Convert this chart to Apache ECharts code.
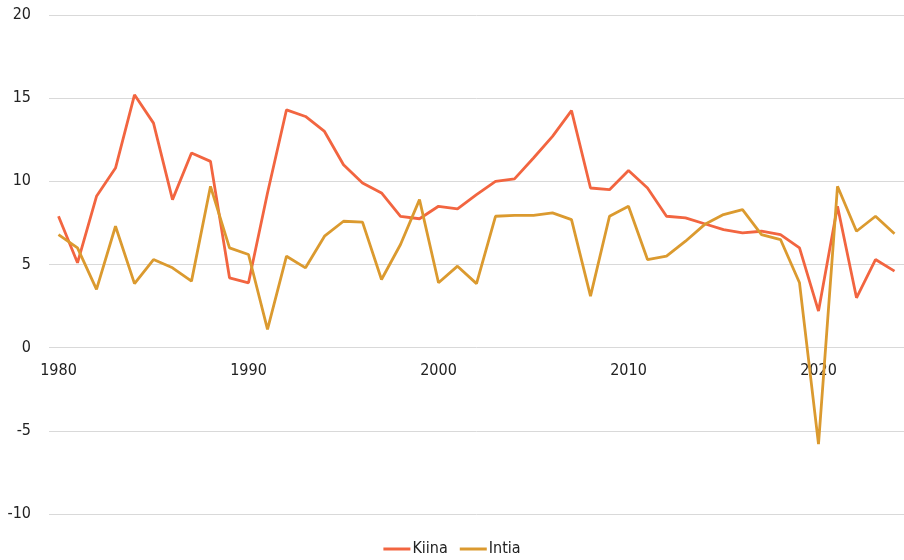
<!DOCTYPE html>
<html>
<head>
<meta charset="utf-8">
<script src="https://cdn.jsdelivr.net/npm/echarts@6/dist/echarts.min.js"></script>
<style>
html,body{margin:0;padding:0;background:#fff;}
#c{width:904px;height:560px;}
</style>
</head>
<body>
<div id="c"></div>
<script>
const years = [];
for (let y = 1980; y <= 2024; y++) years.push(String(y));

const kiina = [7.9, 5.1, 9.1, 10.8, 15.2, 13.5, 8.9, 11.7, 11.2, 4.2,
  3.9, 9.3, 14.3, 13.9, 13.0, 11.0, 9.9, 9.3, 7.9, 7.75,
  8.5, 8.35, 9.2, 10.0, 10.15, 11.4, 12.7, 14.25, 9.6, 9.5,
  10.65, 9.6, 7.9, 7.8, 7.45, 7.1, 6.9, 7.0, 6.8, 6.0,
  2.2, 8.5, 3.0, 5.3, 4.6];

const intia = [6.8, 6.0, 3.5, 7.3, 3.85, 5.3, 4.8, 4.0, 9.7, 6.0,
  5.6, 1.1, 5.5, 4.8, 6.7, 7.6, 7.55, 4.1, 6.2, 8.9,
  3.9, 4.9, 3.85, 7.9, 7.95, 7.95, 8.1, 7.7, 3.1, 7.9,
  8.5, 5.3, 5.5, 6.4, 7.4, 8.0, 8.3, 6.8, 6.5, 3.9,
  -5.8, 9.7, 7.0, 7.9, 6.85];

const yTicks = { min: -10, max: 20, interval: 5 };

const font = "'Liberation Sans Narrow', 'DejaVu Sans Condensed', 'Roboto', sans-serif";
const chart = echarts.init(document.getElementById('c'), null, { renderer: 'canvas' });
chart.setOption({
  backgroundColor: '#ffffff',
  animation: false,
  grid: { left: 49, right: 0, top: 15, bottom: 46, containLabel: false },
  legend: {
    bottom: -2,
    left: 'center',
    itemWidth: 27,
    itemHeight: 3,
    itemGap: 12,
    icon: 'rect',
    textStyle: { fontFamily: font, fontSize: 16, color: '#222', padding: [0, 0, 0, -3] },
    data: ['Kiina', 'Intia']
  },
  xAxis: {
    type: 'category',
    data: years,
    boundaryGap: true,
    offset: -166,
    axisLine: { show: false, onZero: false },
    axisTick: { show: false },
    axisLabel: {
      interval: 0,
      formatter: function (v) { return (Number(v) % 10 === 0) ? v : ''; },
      margin: 15,
      fontFamily: font,
      fontSize: 16,
      color: '#222'
    },
    splitLine: { show: false }
  },
  yAxis: {
    type: 'value',
    min: yTicks.min,
    max: yTicks.max,
    interval: yTicks.interval,
    axisLine: { show: false },
    axisTick: { show: false },
    axisLabel: { margin: 18, fontFamily: font, fontSize: 16, color: '#222' },
    splitLine: { lineStyle: { color: '#d9d9d9', width: 1 } }
  },
  series: [
    {
      name: 'Kiina', type: 'line', data: kiina, symbol: 'none',
      lineStyle: { color: '#f26540', width: 2.8 }, itemStyle: { color: '#f26540' }
    },
    {
      name: 'Intia', type: 'line', data: intia, symbol: 'none',
      lineStyle: { color: '#db9a2f', width: 2.8 }, itemStyle: { color: '#db9a2f' }
    }
  ]
});
</script>
</body>
</html>
